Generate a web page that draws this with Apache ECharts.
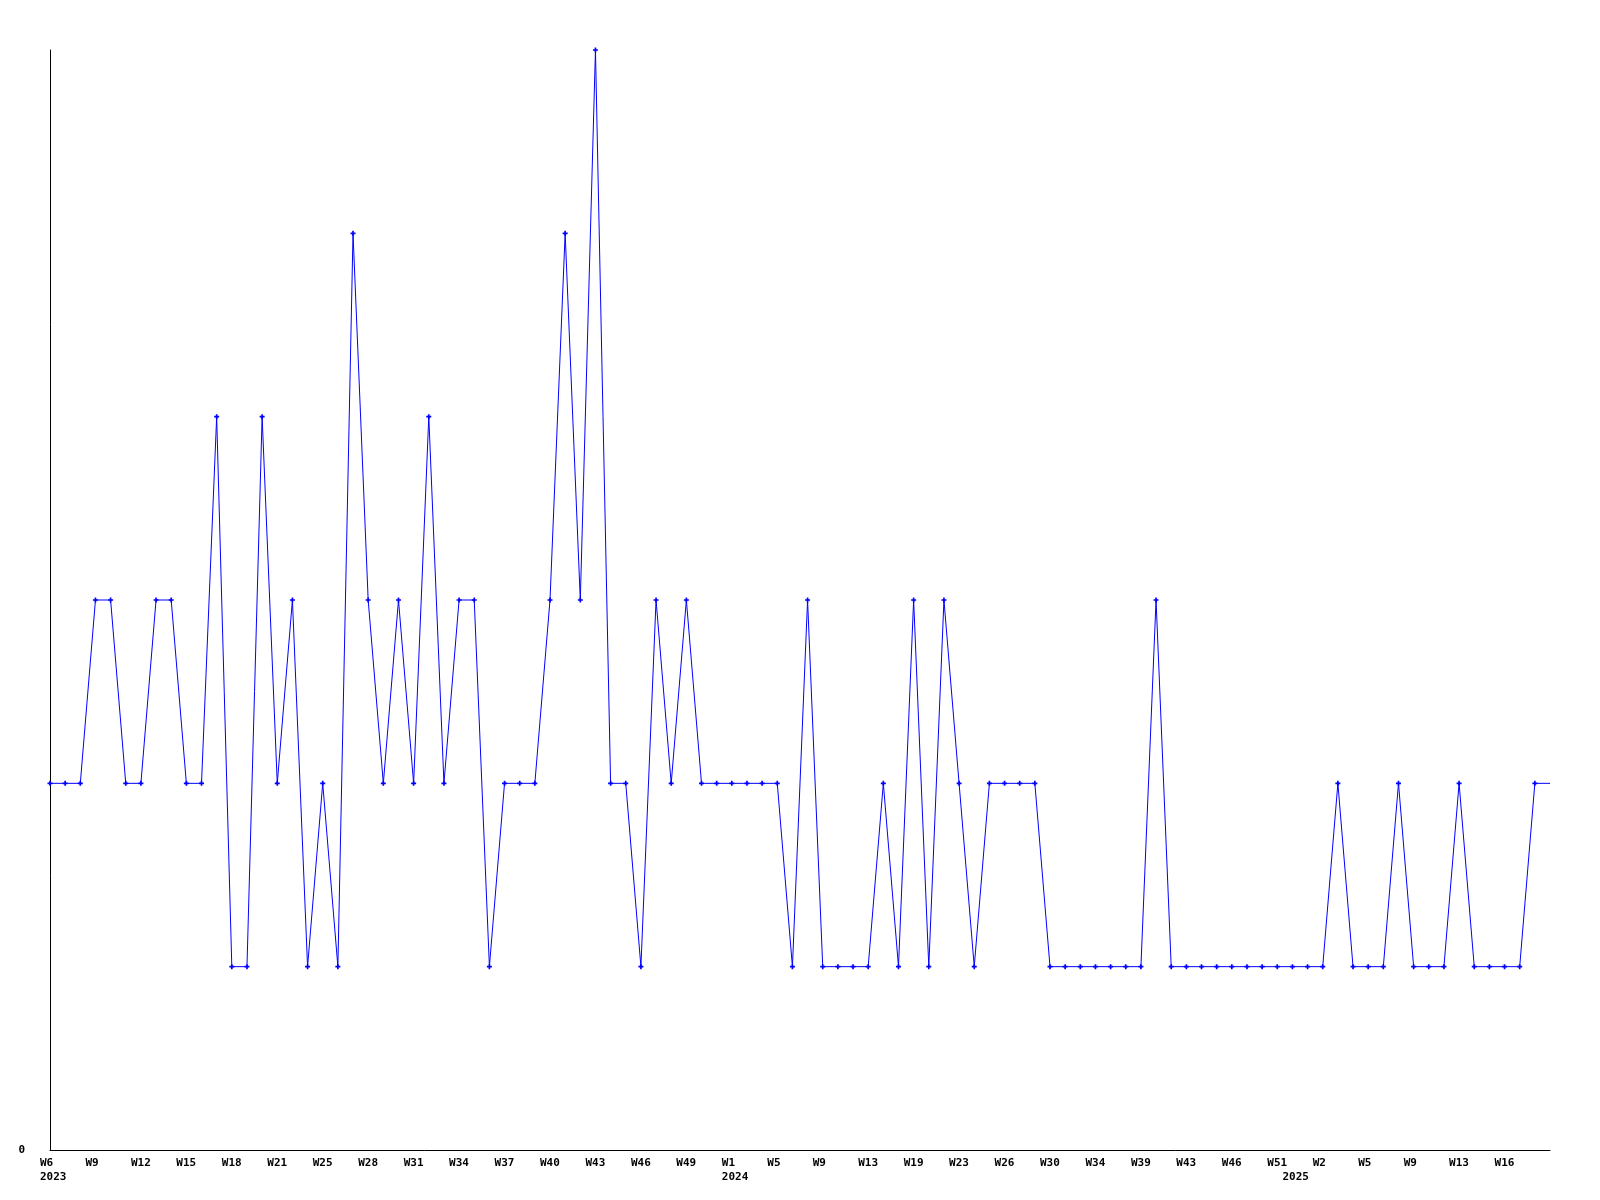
<!DOCTYPE html>
<html><head><meta charset="utf-8">
<script src="https://cdn.jsdelivr.net/npm/echarts@6/dist/echarts.min.js"></script>
<style>html,body{margin:0;padding:0;background:#fff}#c{width:1600px;height:1200px}</style>
</head><body><div id="c"></div>
<script>
const values = [
  2,2,2,3,3,2,2,3,3,2,
  2,4,1,1,4,2,3,1,2,1,
  5,3,2,3,2,4,2,3,3,1,
  2,2,2,3,5,3,6,2,2,1,
  3,2,3,2,2,2,2,2,2,1,
  3,1,1,1,1,2,1,3,1,3,
  2,1,2,2,2,2,1,1,1,1,
  1,1,1,3,1,1,1,1,1,1,
  1,1,1,1,1,2,1,1,1,2,
  1,1,1,2,1,1,1,1,2,2
];
const weekTicks = [[0,'W6'],[3,'W9'],[6,'W12'],[9,'W15'],[12,'W18'],[15,'W21'],[18,'W25'],[21,'W28'],[24,'W31'],[27,'W34'],[30,'W37'],[33,'W40'],[36,'W43'],[39,'W46'],[42,'W49'],[45,'W1'],[48,'W5'],[51,'W9'],[54,'W13'],[57,'W19'],[60,'W23'],[63,'W26'],[66,'W30'],[69,'W34'],[72,'W39'],[75,'W43'],[78,'W46'],[81,'W51'],[84,'W2'],[87,'W5'],[90,'W9'],[93,'W13'],[96,'W16']];
const yearTicks = [[0,'2023'],[45,'2024'],[82,'2025']];
const yTickLabels = [[0,'0']];

const categories = values.map((v, i) => String(i));
const weekMap = new Map(weekTicks);
const yearMap = new Map(yearTicks);
const yMap = new Map(yTickLabels);
const seriesData = values.map((v, i) => i === values.length - 1 ? { value: v, symbolSize: 0 } : v);

const FONT = '"DejaVu Sans Mono", monospace';
const chart = echarts.init(document.getElementById('c'), null, { renderer: 'canvas' });
chart.setOption({
  animation: false,
  backgroundColor: '#ffffff',
  grid: { left: 50, right: 50, top: 50, bottom: 50, containLabel: false },
  xAxis: {
    type: 'category',
    data: categories,
    boundaryGap: false,
    axisLine: { lineStyle: { color: '#000', width: 1 } },
    axisTick: { show: false },
    splitLine: { show: false },
    axisLabel: {
      interval: 0,
      margin: 6,
      align: 'center',
      width: 20,
      overflow: 'none',
      formatter: (val, idx) => {
        const w = weekMap.get(idx);
        const y = yearMap.get(idx);
        if (w === undefined && y === undefined) return '';
        const first = '{a|' + (w !== undefined ? w : ' ') + '}';
        return y !== undefined ? first + '\n{a|' + y + '}' : first;
      },
      rich: {
        a: { align: 'left', fontFamily: FONT, fontWeight: 'bold', fontSize: 11, color: '#000', lineHeight: 14 }
      }
    }
  },
  yAxis: {
    type: 'value',
    min: 0, max: 6, interval: 6,
    axisLine: { show: true, lineStyle: { color: '#000', width: 1 } },
    axisTick: { show: false },
    splitLine: { show: false },
    axisLabel: {
      margin: 25,
      fontFamily: FONT, fontWeight: 'bold', fontSize: 11, color: '#000',
      formatter: v => (yMap.has(v) ? yMap.get(v) : '')
    }
  },
  series: [{
    type: 'line',
    data: seriesData,
    showAllSymbol: true,
    symbol: 'path://M2,0H4V2H6V4H4V6H2V4H0V2H2Z',
    symbolSize: 5,
    itemStyle: { color: '#0000ff' },
    lineStyle: { color: '#0000ff', width: 1 },
    emphasis: { disabled: true }
  }]
});
</script>
</body></html>
